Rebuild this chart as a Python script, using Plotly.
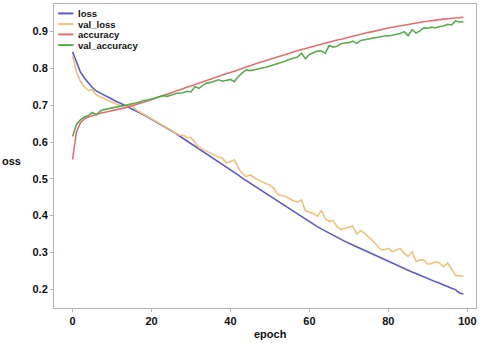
import plotly.graph_objects as go

# training history
epochs = list(range(100))

loss = [
    0.845, 0.815, 0.790, 0.774, 0.760, 0.748, 0.739, 0.733, 0.727, 0.721,
    0.716, 0.711, 0.706, 0.701, 0.696, 0.691, 0.685, 0.680, 0.674, 0.668,
    0.662, 0.656, 0.650, 0.644, 0.638, 0.631, 0.624, 0.617, 0.610, 0.603,
    0.596, 0.589, 0.582, 0.574, 0.567, 0.560, 0.553, 0.545, 0.538, 0.531,
    0.524, 0.517, 0.510, 0.502, 0.495, 0.488, 0.481, 0.473, 0.466, 0.459,
    0.452, 0.445, 0.438, 0.431, 0.424, 0.417, 0.410, 0.403, 0.396, 0.389,
    0.383, 0.376, 0.370, 0.364, 0.358, 0.352, 0.346, 0.341, 0.335, 0.330,
    0.325, 0.320, 0.315, 0.310, 0.305, 0.300, 0.295, 0.290, 0.285, 0.280,
    0.275, 0.270, 0.266, 0.261, 0.256, 0.252, 0.247, 0.243, 0.238, 0.234,
    0.229, 0.225, 0.220, 0.216, 0.211, 0.207, 0.203, 0.199, 0.190, 0.187,
]

val_loss = [
    0.835, 0.790, 0.765, 0.750, 0.740, 0.742, 0.728, 0.722, 0.718, 0.713,
    0.708, 0.704, 0.699, 0.696, 0.698, 0.701, 0.688, 0.682, 0.676, 0.670,
    0.664, 0.657, 0.651, 0.645, 0.638, 0.632, 0.625, 0.619, 0.618, 0.613,
    0.612, 0.598, 0.585, 0.580, 0.575, 0.568, 0.563, 0.559, 0.556, 0.542,
    0.547, 0.551, 0.529, 0.515, 0.506, 0.511, 0.503, 0.497, 0.492, 0.487,
    0.483, 0.474, 0.457, 0.454, 0.452, 0.446, 0.440, 0.437, 0.442, 0.413,
    0.410, 0.406, 0.398, 0.414, 0.392, 0.384, 0.387, 0.370, 0.362, 0.366,
    0.369, 0.372, 0.350, 0.359, 0.352, 0.343, 0.332, 0.321, 0.308, 0.307,
    0.311, 0.302, 0.306, 0.311, 0.298, 0.289, 0.302, 0.276, 0.279, 0.280,
    0.268, 0.270, 0.275, 0.271, 0.261, 0.271, 0.255, 0.238, 0.236, 0.236,
]

accuracy = [
    0.553, 0.628, 0.652, 0.663, 0.668, 0.672, 0.675, 0.678, 0.680, 0.682,
    0.685, 0.687, 0.690, 0.692, 0.695, 0.698, 0.701, 0.705, 0.708, 0.712,
    0.715, 0.719, 0.723, 0.726, 0.730, 0.734, 0.737, 0.741, 0.745, 0.749,
    0.752, 0.756, 0.760, 0.763, 0.767, 0.771, 0.774, 0.778, 0.782, 0.786,
    0.789, 0.793, 0.797, 0.801, 0.805, 0.808, 0.811, 0.815, 0.818, 0.821,
    0.825, 0.828, 0.831, 0.835, 0.838, 0.841, 0.845, 0.848, 0.851, 0.854,
    0.857, 0.860, 0.863, 0.866, 0.869, 0.872, 0.874, 0.877, 0.879, 0.882,
    0.885, 0.888, 0.890, 0.893, 0.895, 0.898, 0.900, 0.903, 0.905, 0.907,
    0.910, 0.912, 0.914, 0.916, 0.918, 0.920, 0.922, 0.924, 0.925, 0.927,
    0.928, 0.930, 0.931, 0.932, 0.934, 0.935, 0.936, 0.938, 0.940, 0.939,
]

val_accuracy = [
    0.615, 0.648, 0.660, 0.668, 0.672, 0.680, 0.674, 0.684, 0.688, 0.690,
    0.692, 0.694, 0.698, 0.700, 0.701, 0.702, 0.706, 0.709, 0.713, 0.714,
    0.717, 0.719, 0.723, 0.726, 0.724, 0.728, 0.731, 0.733, 0.734, 0.738,
    0.736, 0.750, 0.746, 0.754, 0.760, 0.762, 0.766, 0.769, 0.765, 0.768,
    0.770, 0.764, 0.778, 0.788, 0.796, 0.794, 0.797, 0.798, 0.801, 0.803,
    0.806, 0.809, 0.813, 0.816, 0.820, 0.825, 0.828, 0.831, 0.841, 0.826,
    0.838, 0.843, 0.847, 0.848, 0.841, 0.862, 0.858, 0.860, 0.867, 0.869,
    0.870, 0.874, 0.868, 0.876, 0.878, 0.879, 0.882, 0.885, 0.887, 0.888,
    0.888, 0.890, 0.892, 0.895, 0.900, 0.889, 0.905, 0.896, 0.902, 0.910,
    0.909, 0.912, 0.910, 0.914, 0.915, 0.920, 0.918, 0.929, 0.926, 0.927,
]

series_names = ["loss", "val_loss", "accuracy", "val_accuracy"]
series_values = [loss, val_loss, accuracy, val_accuracy]
COLORS = ["#5a5ac8", "#eec27a", "#e07070", "#5aab52"]

FONT = "Liberation Sans, Arial, sans-serif"
TEXT = "#111111"
AXIS = "#b4b4b4"

fig = go.Figure()
for name, vals, col in zip(series_names, series_values, COLORS):
    fig.add_trace(go.Scatter(
        x=epochs, y=vals, name=name, mode="lines",
        line=dict(color=col, width=1.6),
        showlegend=False,
    ))

# hand-built legend (plotly's own legend rows are too tall here)
legend_y = [0.969, 0.934, 0.900, 0.865]
for name, col, ly in zip(series_names, COLORS, legend_y):
    fig.add_shape(
        type="line", xref="paper", yref="paper",
        x0=0.010, x1=0.046, y0=ly, y1=ly,
        line=dict(color=col, width=2),
    )
    fig.add_annotation(
        x=0.051, y=ly, xref="paper", yref="paper",
        text=name, showarrow=False, xanchor="left", yanchor="middle",
        font=dict(family=FONT, size=9.5, color=TEXT, weight="bold"),
    )

fig.add_annotation(
    x=-0.10, y=0.484, xref="paper", yref="paper",
    text="oss", showarrow=False, xanchor="center", yanchor="middle",
    font=dict(family=FONT, size=11, color=TEXT, weight="bold"),
)
fig.add_annotation(
    x=0.514, y=-0.086, xref="paper", yref="paper",
    text="epoch", showarrow=False, xanchor="center", yanchor="middle",
    font=dict(family=FONT, size=11, color=TEXT, weight="bold"),
)

fig.update_layout(
    width=480, height=343,
    paper_bgcolor="white",
    plot_bgcolor="white",
    margin=dict(l=54, r=4, t=4, b=35),
    font=dict(family=FONT, color=TEXT),
    xaxis=dict(
        range=[-4.7, 102.2],
        tickvals=[0, 20, 40, 60, 80, 100],
        showgrid=False, zeroline=False,
        showline=True, linecolor=AXIS, linewidth=1, mirror=True,
        ticks="outside", ticklen=3, tickcolor=AXIS,
        tickfont=dict(family=FONT, size=11, color=TEXT, weight="bold"),
    ),
    yaxis=dict(
        range=[0.149, 0.975],
        tickvals=[0.2, 0.3, 0.4, 0.5, 0.6, 0.7, 0.8, 0.9],
        tickformat=".1f",
        showgrid=False, zeroline=False,
        showline=True, linecolor=AXIS, linewidth=1, mirror=True,
        ticks="outside", ticklen=3, tickcolor=AXIS,
        tickfont=dict(family=FONT, size=11, color=TEXT, weight="bold"),
    ),
)

fig.write_html("out.html", config={"displayModeBar": False})

# drop the browser's default body margin so the figure sits at the page corner
with open("out.html", encoding="utf-8") as f:
    page = f.read()
page = page.replace("<body>", '<body style="margin:0">', 1)
with open("out.html", "w", encoding="utf-8") as f:
    f.write(page)
